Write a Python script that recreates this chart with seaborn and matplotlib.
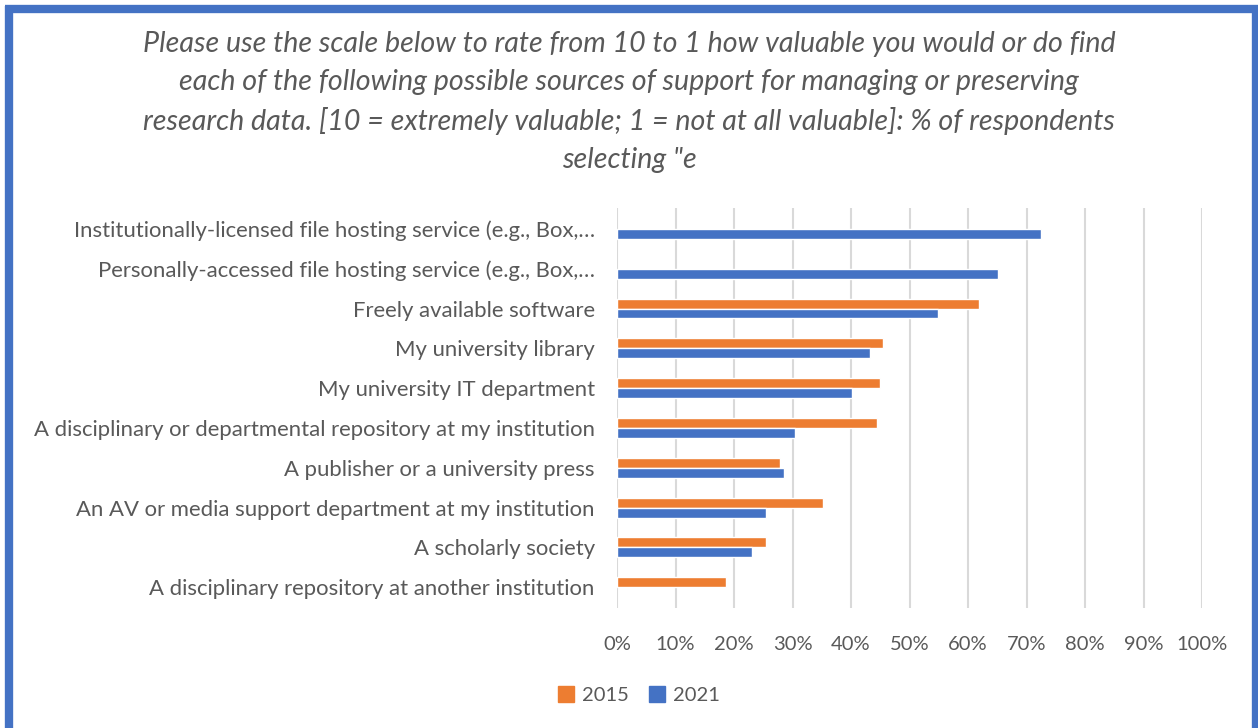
import numpy as np
import pandas as pd
import matplotlib
matplotlib.use("Agg")
import matplotlib.pyplot as plt
import seaborn as sns
from matplotlib.patches import Rectangle
from matplotlib.lines import Line2D
from matplotlib.ticker import PercentFormatter

categories = [
    "Institutionally-licensed file hosting service (e.g., Box,\u2026",
    "Personally-accessed file hosting service (e.g., Box,\u2026",
    "Freely available software",
    "My university library",
    "My university IT department",
    "A disciplinary or departmental repository at my institution",
    "A publisher or a university press",
    "An AV or media support department at my institution",
    "A scholarly society",
    "A disciplinary repository at another institution",
]
values_2015 = [np.nan, np.nan, 61.9, 45.5, 44.9, 44.5, 27.9, 35.2, 25.5, 18.7]
values_2021 = [72.4, 65.2, 54.8, 43.3, 40.1, 30.5, 28.5, 25.4, 23.1, np.nan]
series = ["2015", "2021"]
colors = ["#ED7D31", "#4472C4"]
xticks = list(range(0, 101, 10))

df = pd.DataFrame({
    "category": categories * 2,
    "year": ["2015"] * len(categories) + ["2021"] * len(categories),
    "value": values_2015 + values_2021,
})

sns.set_theme(style="white")
plt.rcParams["font.family"] = ["Lato", "DejaVu Sans"]

fig = plt.figure(figsize=(12.58, 7.28), dpi=100)
ax = fig.add_axes([0.4905, 0.165, 0.465, 0.549])

sns.barplot(data=df, y="category", x="value", hue="year", order=categories,
            hue_order=series, palette=colors, orient="h", width=0.5,
            ax=ax, legend=True, saturation=1)

ax.set_xlim(0, 100)
ax.set_ylim(9.52, -0.52)
ax.set_xticks(xticks)
ax.xaxis.set_major_formatter(PercentFormatter(decimals=0))
ax.grid(axis="x", color="#D9D9D9", linewidth=1.5)
ax.set_axisbelow(True)
for s in ax.spines.values():
    s.set_visible(False)
ax.set_xlabel("")
ax.set_ylabel("")
ax.tick_params(axis="x", length=0, pad=20, labelsize=14.5, labelcolor="#595959")
ax.tick_params(axis="y", length=0, pad=16, labelsize=15.9, labelcolor="#595959")

leg = ax.get_legend()
leg.remove()
handles = [Rectangle((0, 0), 1, 1, color=c) for c in colors]
fig.legend(handles, series, loc="center", bbox_to_anchor=(0.508, 0.045), ncol=2,
           frameon=False, fontsize=14.5, labelcolor="#595959",
           handlelength=0.8, handleheight=0.8, handletextpad=0.4, columnspacing=1.0)

title = ("Please use the scale below to rate from 10 to 1 how valuable you would or do find\n"
         "each of the following possible sources of support for managing or preserving\n"
         "research data. [10 = extremely valuable; 1 = not at all valuable]: % of respondents\n"
         "selecting \"e")
fig.text(0.5, 0.86, title, ha="center", va="center", fontsize=20.6, style="italic",
         color="#595959", linespacing=1.55)

W, H = 1258.0, 728.0
lw = 6
border = "#4472C4"
fig.add_artist(Line2D([5 / W, 1.0], [1 - 9 / H, 1 - 9 / H], transform=fig.transFigure,
                      color=border, linewidth=lw, solid_capstyle="butt"))
fig.add_artist(Line2D([9 / W, 9 / W], [0.0, 1 - 6 / H], transform=fig.transFigure,
                      color=border, linewidth=lw, solid_capstyle="butt"))
fig.add_artist(Line2D([1256 / W, 1256 / W], [0.0, 1 - 6 / H], transform=fig.transFigure,
                      color=border, linewidth=lw, solid_capstyle="butt"))

fig.savefig("out.png", dpi=100, facecolor="white")
